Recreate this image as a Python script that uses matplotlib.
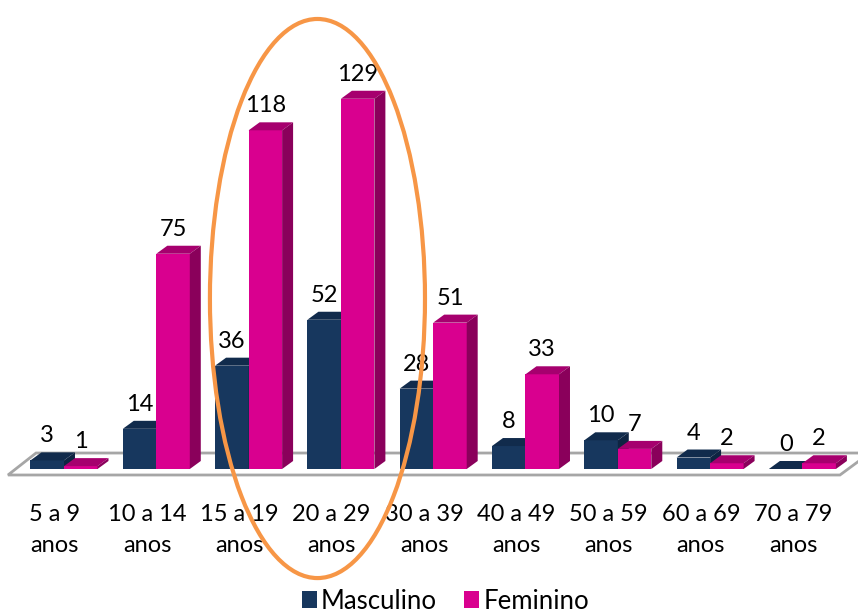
import matplotlib
matplotlib.use("Agg")
import matplotlib.pyplot as plt
from matplotlib.patches import Polygon, Patch, Ellipse

plt.rcParams["font.family"] = ["Lato", "DejaVu Sans"]

faixas = ["5 a 9", "10 a 14", "15 a 19", "20 a 29", "30 a 39", "40 a 49",
          "50 a 59", "60 a 69", "70 a 79"]
masculino = [3, 14, 36, 52, 28, 8, 10, 4, 0]
feminino = [1, 75, 118, 129, 51, 33, 7, 2, 2]

# cores: frente, topo, lateral
cores_m = ("#17375E", "#112B4C", "#0E2442")
cores_f = ("#D9008F", "#A6006E", "#8A005B")

largura = 0.363   # largura da barra (unidades de categoria)
dx, dy = 0.119, 2.79  # profundidade do efeito 3D


def barra3d(ax, x0, valor, cores):
    frente, topo, lado = cores
    ax.bar(x0, valor, width=largura, align="edge", color=frente,
           linewidth=0, zorder=3)
    x1 = x0 + largura
    ax.add_patch(Polygon([(x0, valor), (x1, valor), (x1 + dx, valor + dy),
                          (x0 + dx, valor + dy)], closed=True,
                         facecolor=topo, linewidth=0, zorder=3))
    ax.add_patch(Polygon([(x1, 0), (x1 + dx, dy), (x1 + dx, valor + dy),
                          (x1, valor)], closed=True,
                         facecolor=lado, linewidth=0, zorder=3))


fig = plt.figure(figsize=(8.58, 6.14), dpi=100)
ax = fig.add_axes([0, 0, 1, 1])
ax.set_xlim(-0.6934, 8.6024)
ax.set_ylim(-50.52, 163.41)
ax.axis("off")

# piso
ax.add_patch(Polygon([(-0.607, -2.09), (8.407, -2.09), (8.73, 5.57),
                      (-0.303, 5.57)], closed=True, facecolor="white",
                     edgecolor="#A6A6A6", linewidth=2, zorder=1))

for i, (m, f) in enumerate(zip(masculino, feminino)):
    barra3d(ax, i - largura, m, cores_m)
    barra3d(ax, i, f, cores_f)
    ax.annotate(str(m), (i - largura / 2, m + dy), xytext=(0, 10),
                textcoords="offset pixels", ha="center", va="baseline",
                fontsize=17, zorder=2)
    ax.annotate(str(f), (i + largura / 2, f + dy), xytext=(0, 10),
                textcoords="offset pixels", ha="center", va="baseline",
                fontsize=17, zorder=4)
    ax.text(i - 0.1, -18.1, faixas[i], ha="center", va="baseline",
            fontsize=17)
    ax.text(i - 0.1, -28.9, "anos", ha="center", va="baseline",
            fontsize=17)

# destaque das faixas 15-29 anos
ax.add_patch(Ellipse((2.746, 59.4), 2.33, 194.8, fill=False,
                     edgecolor="#F79646", linewidth=3, zorder=6))

handles = [Patch(facecolor=cores_m[0]), Patch(facecolor=cores_f[0])]
fig.legend(handles, ["Masculino", "Feminino"], loc="center",
           bbox_to_anchor=(0.519, 0.021), ncol=2, frameon=False,
           fontsize=18.5, handlelength=0.6, handleheight=0.6,
           handletextpad=0.15, columnspacing=1.05, borderpad=0)

fig.savefig("out.png", dpi=100)
